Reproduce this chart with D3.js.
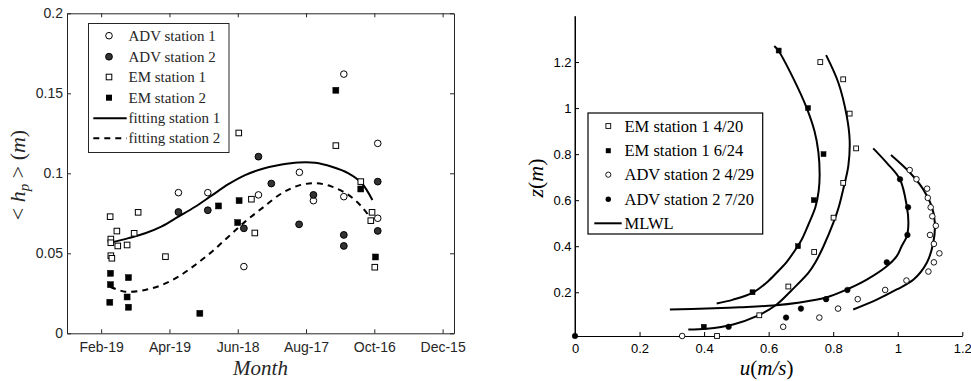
<!DOCTYPE html>
<html><head><meta charset="utf-8">
<script src="https://cdn.jsdelivr.net/npm/d3@7"></script>
<style>
html,body{margin:0;padding:0;background:#fff;}
svg{display:block;}
</style></head>
<body>
<svg id="c" width="971" height="381"></svg>
<script>
// ---------- LEFT CHART DATA (x = day of year) ----------
const monthTicks = [50, 110, 170, 230, 290, 350];
const monthLabels = ["Feb-19", "Apr-19", "Jun-18", "Aug-17", "Oct-16", "Dec-15"];
const hpTicks = [0, 0.05, 0.1, 0.15, 0.2];
const hpTickLabels = ["0", "0.05", "0.1", "0.15", "0.2"];

const advSt1Day = [117.9, 143.7, 175.4, 188.2, 224.2, 236.5, 263.2, 263.2, 293, 293];
const advSt1Hp  = [0.0879, 0.0879, 0.0417, 0.0865, 0.1006, 0.0829, 0.162, 0.0854, 0.1187, 0.0719];

const advSt2Day = [117.9, 143.7, 175.4, 188.2, 199.5, 223.9, 236.5, 263.2, 263.2, 293, 293];
const advSt2Hp  = [0.0758, 0.0769, 0.0656, 0.1104, 0.0936, 0.0681, 0.0865, 0.0615, 0.0546, 0.0948, 0.064];

const emSt1Day = [57.9, 58.5, 58.5, 58.5, 59.4, 63.8, 64.6, 72.8, 79, 82.5, 106.5, 170.9, 182, 185, 256.2, 278.1, 288, 286.9, 290.4];
const emSt1Hp  = [0.0729, 0.0589, 0.0566, 0.0485, 0.0469, 0.0639, 0.0546, 0.0552, 0.0625, 0.0756, 0.0479, 0.1252, 0.0838, 0.0627, 0.1173, 0.0948, 0.0756, 0.0704, 0.0413];

const emSt2Day = [58.2, 58.2, 57.6, 74, 72.8, 74, 136.7, 153.1, 170, 171.2, 256.2, 278.1, 291];
const emSt2Hp  = [0.0375, 0.0304, 0.0194, 0.0348, 0.0227, 0.0163, 0.0125, 0.0796, 0.0692, 0.0829, 0.1519, 0.0902, 0.0477];

const fit1Day = [57.9, 74, 88.7, 103.3, 117.9, 132.6, 147.3, 161.8, 176.5, 191.2, 208.7, 223.3, 238, 252.7, 267.3, 279, 288.3];
const fit1Hp  = [0.0566, 0.0595, 0.0625, 0.0668, 0.0729, 0.0791, 0.0862, 0.0932, 0.0989, 0.1027, 0.1055, 0.1068, 0.1066, 0.1041, 0.1, 0.0938, 0.0833];

const fit2Day = [57.9, 71.1, 88.7, 103.3, 117.9, 132.6, 147.3, 161.8, 176.5, 191.2, 208.7, 223.3, 238, 252.7, 267.3, 279, 287.8];
const fit2Hp  = [0.0291, 0.026, 0.0271, 0.0302, 0.0354, 0.0427, 0.051, 0.0604, 0.0698, 0.0781, 0.0875, 0.0923, 0.0938, 0.0917, 0.0865, 0.0791, 0.0708];

const leftLegend = ["ADV station 1", "ADV station 2", "EM station 1", "EM station 2", "fitting station 1", "fitting station 2"];

// ---------- RIGHT CHART DATA ----------
const uTicks = [0, 0.2, 0.4, 0.6, 0.8, 1, 1.2];
const zTicks = [0.2, 0.4, 0.6, 0.8, 1, 1.2];

const em420U = [0.76, 0.831, 0.851, 0.871, 0.831, 0.801, 0.741, 0.661, 0.571, 0.44];
const em420Z = [1.2, 1.125, 0.976, 0.825, 0.675, 0.524, 0.375, 0.225, 0.1, 0.01];

const em624U = [0.631, 0.722, 0.77, 0.74, 0.691, 0.55, 0.399];
const em624Z = [1.25, 1.0, 0.8, 0.6, 0.4, 0.2, 0.05];

const adv429U = [1.037, 1.058, 1.091, 1.093, 1.102, 1.107, 1.118, 1.1, 1.112, 1.129, 1.112, 1.095, 1.027, 0.961, 0.876, 0.815, 0.757, 0.645, 0.332];
const adv429Z = [0.731, 0.691, 0.65, 0.61, 0.569, 0.53, 0.489, 0.449, 0.41, 0.369, 0.33, 0.29, 0.251, 0.21, 0.17, 0.129, 0.09, 0.05, 0.01];

const adv720U = [1.007, 1.032, 1.03, 0.966, 0.844, 0.778, 0.7, 0.654, 0.476, 0];
const adv720Z = [0.691, 0.569, 0.449, 0.33, 0.21, 0.17, 0.129, 0.09, 0.05, 0.01];

const mlwl1U = [0.6175, 0.63, 0.676, 0.718, 0.742, 0.754, 0.758, 0.755, 0.745, 0.722, 0.703, 0.69, 0.655, 0.635, 0.6, 0.553, 0.49, 0.439];
const mlwl1Z = [1.27, 1.25, 1.13, 1.0, 0.9, 0.81, 0.71, 0.64, 0.57, 0.49, 0.43, 0.4, 0.33, 0.3, 0.25, 0.2, 0.168, 0.151];

const mlwl2U = [0.778, 0.816, 0.842, 0.851, 0.847, 0.831, 0.818, 0.8, 0.77, 0.745, 0.723, 0.672, 0.625, 0.563, 0.49, 0.408, 0.351];
const mlwl2Z = [1.23, 1.11, 0.965, 0.86, 0.75, 0.647, 0.574, 0.5, 0.4, 0.33, 0.284, 0.21, 0.147, 0.096, 0.06, 0.041, 0.038];

const mlwl3U = [0.924, 0.966, 1.007, 1.028, 1.033, 1.028, 1.012, 0.997, 0.966, 0.904, 0.842, 0.775, 0.697, 0.614, 0.511, 0.408, 0.294];
const mlwl3Z = [0.825, 0.762, 0.69, 0.574, 0.502, 0.443, 0.4, 0.357, 0.313, 0.255, 0.212, 0.176, 0.156, 0.143, 0.135, 0.129, 0.125];

const mlwl4U = [0.979, 1.038, 1.079, 1.105, 1.115, 1.11, 1.09, 1.049, 0.997, 0.935, 0.862];
const mlwl4Z = [0.796, 0.719, 0.647, 0.574, 0.502, 0.415, 0.328, 0.255, 0.212, 0.168, 0.125];

const rightLegend = ["EM station 1 4/20", "EM station 1 6/24", "ADV station 2 4/29", "ADV station 2 7/20", "MLWL"];

// ---------- DRAW ----------
const svg = d3.select("#c");
const zip = (a, b) => a.map((v, i) => [v, b[i]]);
const SANS = "'Liberation Sans', Arial, sans-serif";
const SERIF = "'Liberation Serif', 'Times New Roman', serif";
const AX = "#262626";

// ===== LEFT =====
const L = {x0: 67, x1: 454, y0: 13.3, y1: 333.3};
const xL = d3.scaleLinear().domain([20, 360]).range([L.x0, L.x1]);
const yL = d3.scaleLinear().domain([0, 0.2]).range([L.y1, L.y0]);
const gL = svg.append("g");

function styleAxis(g, color, fs, font) {
  g.selectAll("path.domain").attr("stroke", color).attr("stroke-width", 1);
  g.selectAll(".tick line").attr("stroke", color).attr("stroke-width", 1);
  g.selectAll(".tick text").attr("fill", color).style("font-size", fs + "px").style("font-family", font);
}

gL.append("g").attr("transform", `translate(0,${L.y1})`)
  .call(d3.axisBottom(xL).tickValues(monthTicks).tickFormat((d, i) => monthLabels[i]).tickSize(-4).tickSizeOuter(0).tickPadding(9))
  .call(g => styleAxis(g, AX, 14, SANS));
gL.append("g").attr("transform", `translate(0,${L.y0})`)
  .call(d3.axisTop(xL).tickValues(monthTicks).tickFormat("").tickSize(-4).tickSizeOuter(0))
  .call(g => styleAxis(g, AX, 14, SANS));
gL.append("g").attr("transform", `translate(${L.x0},0)`)
  .call(d3.axisLeft(yL).tickValues(hpTicks).tickFormat((d, i) => hpTickLabels[i]).tickSize(-4).tickSizeOuter(0).tickPadding(4))
  .call(g => styleAxis(g, AX, 14, SANS));
gL.append("g").attr("transform", `translate(${L.x1},0)`)
  .call(d3.axisRight(yL).tickValues(hpTicks).tickFormat("").tickSize(-4).tickSizeOuter(0))
  .call(g => styleAxis(g, AX, 14, SANS));

// fitting curves
const lineL = d3.line().x(d => xL(d[0])).y(d => yL(d[1])).curve(d3.curveCatmullRom.alpha(0.5));
gL.append("path").attr("d", lineL(zip(fit1Day, fit1Hp))).attr("fill", "none").attr("stroke", "#000").attr("stroke-width", 2);
gL.append("path").attr("d", lineL(zip(fit2Day, fit2Hp))).attr("fill", "none").attr("stroke", "#000").attr("stroke-width", 2).attr("stroke-dasharray", "6,5");

function circles(g, xs, ys, xS, yS, r, fill, stroke, sw) {
  g.append("g").selectAll("circle").data(zip(xs, ys)).join("circle")
    .attr("cx", d => xS(d[0])).attr("cy", d => yS(d[1])).attr("r", r)
    .attr("fill", fill).attr("stroke", stroke).attr("stroke-width", sw);
}
function squares(g, xs, ys, xS, yS, s, fill, stroke, sw) {
  g.append("g").selectAll("rect").data(zip(xs, ys)).join("rect")
    .attr("x", d => xS(d[0]) - s / 2).attr("y", d => yS(d[1]) - s / 2).attr("width", s).attr("height", s)
    .attr("fill", fill).attr("stroke", stroke).attr("stroke-width", sw);
}
circles(gL, advSt1Day, advSt1Hp, xL, yL, 3.3, "#fff", "#000", 1);
circles(gL, advSt2Day, advSt2Hp, xL, yL, 3.4, "#333", "#000", 1);
squares(gL, emSt1Day, emSt1Hp, xL, yL, 5.6, "#fff", "#000", 1);
squares(gL, emSt2Day, emSt2Hp, xL, yL, 6, "#000", "#000", 0.5);

// left legend
const lg = gL.append("g");
lg.append("rect").attr("x", 88.5).attr("y", 23.5).attr("width", 140.5).attr("height", 129).attr("fill", "#fff").attr("stroke", AX).attr("stroke-width", 1);
const lgY = [35.7, 56.7, 77, 97.7, 118.3, 138.3];
lg.append("circle").attr("cx", 109).attr("cy", lgY[0]).attr("r", 3.3).attr("fill", "#fff").attr("stroke", "#000");
lg.append("circle").attr("cx", 109).attr("cy", lgY[1]).attr("r", 3.4).attr("fill", "#333").attr("stroke", "#000");
lg.append("rect").attr("x", 109 - 2.8).attr("y", lgY[2] - 2.8).attr("width", 5.6).attr("height", 5.6).attr("fill", "#fff").attr("stroke", "#000");
lg.append("rect").attr("x", 109 - 3).attr("y", lgY[3] - 3).attr("width", 6).attr("height", 6).attr("fill", "#000");
lg.append("line").attr("x1", 93.3).attr("x2", 126.7).attr("y1", lgY[4]).attr("y2", lgY[4]).attr("stroke", "#000").attr("stroke-width", 2);
lg.append("line").attr("x1", 93.3).attr("x2", 126.7).attr("y1", lgY[5]).attr("y2", lgY[5]).attr("stroke", "#000").attr("stroke-width", 2).attr("stroke-dasharray", "6,5");
lg.selectAll("text").data(leftLegend).join("text")
  .attr("x", 128.5).attr("y", (d, i) => lgY[i] + 5)
  .attr("fill", AX).style("font-family", SERIF).style("font-size", "15px").text(d => d);

// left axis titles
gL.append("text").attr("x", 260.5).attr("y", 374.5).attr("text-anchor", "middle")
  .attr("fill", AX).style("font-family", SERIF).style("font-style", "italic").style("font-size", "21px").text("Month");
const yt = gL.append("text").attr("transform", "translate(25,175) rotate(-90)").attr("text-anchor", "middle")
  .attr("fill", AX).style("font-family", SERIF).style("font-size", "22px");
yt.append("tspan").text("< ");
yt.append("tspan").style("font-style", "italic").text("h");
yt.append("tspan").style("font-style", "italic").style("font-size", "15px").attr("dy", 4).text("p");
yt.append("tspan").attr("dy", -4).text(" > (");
yt.append("tspan").style("font-style", "italic").text("m");
yt.append("tspan").text(")");

// ===== RIGHT =====
const R = {x0: 575, x1: 962.3, y0: 16, y1: 336};
const xR = d3.scaleLinear().domain([0, 1.2]).range([R.x0, R.x1]);
const yR = d3.scaleLinear().domain([0.01, 1.4]).range([R.y1, R.y0]);
const gR = svg.append("g");

gR.append("g").attr("transform", `translate(0,${R.y1})`)
  .call(d3.axisBottom(xR).tickValues(uTicks).tickFormat(d3.format("~g")).tickSize(-4).tickSizeOuter(0).tickPadding(7.5))
  .call(g => styleAxis(g, "#000", 13, SANS));
gR.append("g").attr("transform", `translate(${R.x0},0)`)
  .call(d3.axisLeft(yR).tickValues(zTicks).tickFormat(d3.format("~g")).tickSize(-4).tickSizeOuter(0).tickPadding(3.5))
  .call(g => styleAxis(g, "#000", 13, SANS));
// extend left axis to top
gR.append("line").attr("x1", R.x0).attr("x2", R.x0).attr("y1", R.y0).attr("y2", R.y1).attr("stroke", "#000");

const lineR = d3.line().x(d => xR(d[0])).y(d => yR(d[1])).curve(d3.curveCatmullRom.alpha(0.5));
[[mlwl1U, mlwl1Z], [mlwl2U, mlwl2Z], [mlwl3U, mlwl3Z], [mlwl4U, mlwl4Z]].forEach(([u, z]) => {
  gR.append("path").attr("d", lineR(zip(u, z))).attr("fill", "none").attr("stroke", "#000").attr("stroke-width", 2);
});

squares(gR, em420U, em420Z, xR, yR, 4.8, "#fff", "#000", 0.9);
squares(gR, em624U, em624Z, xR, yR, 5, "#000", "#000", 0.5);
circles(gR, adv429U, adv429Z, xR, yR, 2.8, "#fff", "#000", 0.9);
circles(gR, adv720U, adv720Z, xR, yR, 2.8, "#000", "#000", 0.5);

// right legend
const rg = gR.append("g");
rg.append("rect").attr("x", 588).attr("y", 113).attr("width", 174.7).attr("height", 121).attr("fill", "#fff").attr("stroke", "#000").attr("stroke-width", 1.2);
const rgY = [126, 150.7, 174.7, 199.3, 223.3];
rg.append("rect").attr("x", 608.3 - 2.4).attr("y", rgY[0] - 2.4).attr("width", 4.8).attr("height", 4.8).attr("fill", "#fff").attr("stroke", "#000").attr("stroke-width", 0.9);
rg.append("rect").attr("x", 608.3 - 2.5).attr("y", rgY[1] - 2.5).attr("width", 5).attr("height", 5).attr("fill", "#000");
rg.append("circle").attr("cx", 608.3).attr("cy", rgY[2]).attr("r", 2.6).attr("fill", "#fff").attr("stroke", "#000").attr("stroke-width", 0.9);
rg.append("circle").attr("cx", 608.3).attr("cy", rgY[3]).attr("r", 2.7).attr("fill", "#000");
rg.append("line").attr("x1", 594.3).attr("x2", 621.7).attr("y1", rgY[4]).attr("y2", rgY[4]).attr("stroke", "#000").attr("stroke-width", 2);
rg.selectAll("text").data(rightLegend).join("text")
  .attr("x", 624.5).attr("y", (d, i) => rgY[i] + 5.5)
  .attr("fill", "#000").style("font-family", SERIF).style("font-size", "16.5px").text(d => d);

// right axis titles
const xt = gR.append("text").attr("x", 766.7).attr("y", 374.5).attr("text-anchor", "middle")
  .attr("fill", "#000").style("font-family", SERIF).style("font-size", "21px");
xt.append("tspan").style("font-style", "italic").text("u");
xt.append("tspan").text("(");
xt.append("tspan").style("font-style", "italic").text("m/s");
xt.append("tspan").text(")");
const zt = gR.append("text").attr("transform", "translate(543,178) rotate(-90)").attr("text-anchor", "middle")
  .attr("fill", "#000").style("font-family", SERIF).style("font-size", "22px");
zt.append("tspan").style("font-style", "italic").text("z");
zt.append("tspan").text("(");
zt.append("tspan").style("font-style", "italic").text("m");
zt.append("tspan").text(")");
</script>
</body></html>
